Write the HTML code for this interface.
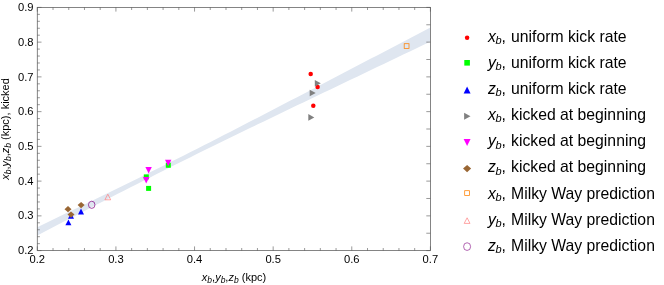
<!DOCTYPE html>
<html><head><meta charset="utf-8"><style>
html,body{margin:0;padding:0;background:#fff;}
body{width:664px;height:285px;overflow:hidden;}
svg{display:block;will-change:transform;}
text{font-family:"Liberation Sans",sans-serif;}
</style></head><body>
<svg width="664" height="285" viewBox="0 0 664 285">
<rect width="664" height="285" fill="#fff"/>

<polygon fill="#dfe6f0" points="37.30,227.16 43.96,223.96 50.63,220.76 57.29,217.55 63.95,214.34 70.61,211.12 77.28,207.91 83.94,204.68 90.60,201.45 97.26,198.22 103.93,194.98 110.59,191.74 117.25,188.48 123.92,185.22 130.58,181.95 137.24,178.67 143.90,175.38 150.57,172.08 157.23,168.77 163.89,165.45 170.55,162.12 177.22,158.77 183.88,155.41 190.54,152.05 197.21,148.67 203.87,145.28 210.53,141.89 217.19,138.48 223.86,135.07 230.52,131.64 237.18,128.22 243.84,124.78 250.51,121.34 257.17,117.90 263.83,114.45 270.49,110.99 277.16,107.53 283.82,104.07 290.48,100.61 297.15,97.14 303.81,93.67 310.47,90.20 317.13,86.72 323.80,83.25 330.46,79.77 337.12,76.29 343.78,72.81 350.45,69.33 357.11,65.84 363.77,62.36 370.44,58.87 377.10,55.38 383.76,51.90 390.42,48.41 397.09,44.92 403.75,41.43 410.41,37.94 417.07,34.45 423.74,30.96 430.40,27.46 430.40,41.64 423.74,44.82 417.07,48.00 410.41,51.18 403.75,54.36 397.09,57.53 390.42,60.71 383.76,63.90 377.10,67.08 370.44,70.26 363.77,73.44 357.11,76.63 350.45,79.81 343.78,83.00 337.12,86.19 330.46,89.38 323.80,92.57 317.13,95.76 310.47,98.96 303.81,102.16 297.15,105.36 290.48,108.56 283.82,111.76 277.16,114.97 270.49,118.18 263.83,121.40 257.17,124.62 250.51,127.84 243.84,131.07 237.18,134.30 230.52,137.54 223.86,140.79 217.19,144.05 210.53,147.31 203.87,150.58 197.21,153.86 190.54,157.16 183.88,160.46 177.22,163.77 170.55,167.10 163.89,170.43 157.23,173.78 150.57,177.14 143.90,180.51 137.24,183.89 130.58,187.28 123.92,190.68 117.25,194.09 110.59,197.50 103.93,200.92 97.26,204.35 90.60,207.79 83.94,211.23 77.28,214.68 70.61,218.13 63.95,221.58 57.29,225.04 50.63,228.51 43.96,231.97 37.30,235.44"/>
<g stroke="#666" stroke-width="0.8" fill="none">
<rect x="37.3" y="7.4" width="393.09999999999997" height="243.2"/>
</g><g stroke="#555" stroke-width="0.6" fill="none">
<path d="M37.30 250.6v-4.2M37.30 7.4v4.2"/>
<path d="M53.02 250.6v-2.6M53.02 7.4v2.6"/>
<path d="M68.75 250.6v-2.6M68.75 7.4v2.6"/>
<path d="M84.47 250.6v-2.6M84.47 7.4v2.6"/>
<path d="M100.20 250.6v-2.6M100.20 7.4v2.6"/>
<path d="M115.92 250.6v-4.2M115.92 7.4v4.2"/>
<path d="M131.64 250.6v-2.6M131.64 7.4v2.6"/>
<path d="M147.37 250.6v-2.6M147.37 7.4v2.6"/>
<path d="M163.09 250.6v-2.6M163.09 7.4v2.6"/>
<path d="M178.82 250.6v-2.6M178.82 7.4v2.6"/>
<path d="M194.54 250.6v-4.2M194.54 7.4v4.2"/>
<path d="M210.26 250.6v-2.6M210.26 7.4v2.6"/>
<path d="M225.99 250.6v-2.6M225.99 7.4v2.6"/>
<path d="M241.71 250.6v-2.6M241.71 7.4v2.6"/>
<path d="M257.44 250.6v-2.6M257.44 7.4v2.6"/>
<path d="M273.16 250.6v-4.2M273.16 7.4v4.2"/>
<path d="M288.88 250.6v-2.6M288.88 7.4v2.6"/>
<path d="M304.61 250.6v-2.6M304.61 7.4v2.6"/>
<path d="M320.33 250.6v-2.6M320.33 7.4v2.6"/>
<path d="M336.06 250.6v-2.6M336.06 7.4v2.6"/>
<path d="M351.78 250.6v-4.2M351.78 7.4v4.2"/>
<path d="M367.50 250.6v-2.6M367.50 7.4v2.6"/>
<path d="M383.23 250.6v-2.6M383.23 7.4v2.6"/>
<path d="M398.95 250.6v-2.6M398.95 7.4v2.6"/>
<path d="M414.68 250.6v-2.6M414.68 7.4v2.6"/>
<path d="M430.40 250.6v-4.2M430.40 7.4v4.2"/>
<path d="M37.3 250.60h4.2"/>
<path d="M37.3 243.65h2.6"/>
<path d="M37.3 236.70h2.6"/>
<path d="M37.3 229.75h2.6"/>
<path d="M37.3 222.81h2.6"/>
<path d="M37.3 215.86h4.2"/>
<path d="M37.3 208.91h2.6"/>
<path d="M37.3 201.96h2.6"/>
<path d="M37.3 195.01h2.6"/>
<path d="M37.3 188.06h2.6"/>
<path d="M37.3 181.11h4.2"/>
<path d="M37.3 174.17h2.6"/>
<path d="M37.3 167.22h2.6"/>
<path d="M37.3 160.27h2.6"/>
<path d="M37.3 153.32h2.6"/>
<path d="M37.3 146.37h4.2"/>
<path d="M37.3 139.42h2.6"/>
<path d="M37.3 132.47h2.6"/>
<path d="M37.3 125.53h2.6"/>
<path d="M37.3 118.58h2.6"/>
<path d="M37.3 111.63h4.2"/>
<path d="M37.3 104.68h2.6"/>
<path d="M37.3 97.73h2.6"/>
<path d="M37.3 90.78h2.6"/>
<path d="M37.3 83.83h2.6"/>
<path d="M37.3 76.89h4.2"/>
<path d="M37.3 69.94h2.6"/>
<path d="M37.3 62.99h2.6"/>
<path d="M37.3 56.04h2.6"/>
<path d="M37.3 49.09h2.6"/>
<path d="M37.3 42.14h4.2"/>
<path d="M37.3 35.19h2.6"/>
<path d="M37.3 28.25h2.6"/>
<path d="M37.3 21.30h2.6"/>
<path d="M37.3 14.35h2.6"/>
<path d="M37.3 7.40h4.2"/>
<path d="M430.4 250.60h-4.1"/>
<path d="M430.4 233.23h-4.1"/>
<path d="M430.4 215.86h-4.1"/>
<path d="M430.4 198.49h-4.1"/>
<path d="M430.4 181.11h-4.1"/>
<path d="M430.4 163.74h-4.1"/>
<path d="M430.4 146.37h-4.1"/>
<path d="M430.4 129.00h-4.1"/>
<path d="M430.4 111.63h-4.1"/>
<path d="M430.4 94.26h-4.1"/>
<path d="M430.4 76.89h-4.1"/>
<path d="M430.4 59.51h-4.1"/>
<path d="M430.4 42.14h-4.1"/>
<path d="M430.4 24.77h-4.1"/>
<path d="M430.4 7.40h-4.1"/>
</g>
<g font-size="11.2" fill="#000">
<text x="37.30" y="263.1" text-anchor="middle">0.2</text>
<text x="115.92" y="263.1" text-anchor="middle">0.3</text>
<text x="194.54" y="263.1" text-anchor="middle">0.4</text>
<text x="273.16" y="263.1" text-anchor="middle">0.5</text>
<text x="351.78" y="263.1" text-anchor="middle">0.6</text>
<text x="430.40" y="263.1" text-anchor="middle">0.7</text>
<text x="33.5" y="253.81" text-anchor="end">0.2</text>
<text x="33.5" y="219.18" text-anchor="end">0.3</text>
<text x="33.5" y="184.55" text-anchor="end">0.4</text>
<text x="33.5" y="149.92" text-anchor="end">0.5</text>
<text x="33.5" y="115.29" text-anchor="end">0.6</text>
<text x="33.5" y="80.66" text-anchor="end">0.7</text>
<text x="33.5" y="46.03" text-anchor="end">0.8</text>
<text x="33.5" y="11.40" text-anchor="end">0.9</text>
</g>
<text x="234" y="281.2" font-size="11" text-anchor="middle"><tspan font-style="italic">x</tspan><tspan font-style="italic" font-size="8.5" dy="1.8">b</tspan><tspan dy="-1.8">,</tspan><tspan font-style="italic">y</tspan><tspan font-style="italic" font-size="8.5" dy="1.8">b</tspan><tspan dy="-1.8">,</tspan><tspan font-style="italic">z</tspan><tspan font-style="italic" font-size="8.5" dy="1.8">b</tspan><tspan dy="-1.8"> (kpc)</tspan></text>
<text transform="translate(8.7,129) rotate(-90)" font-size="11" text-anchor="middle"><tspan font-style="italic">x</tspan><tspan font-style="italic" font-size="8.5" dy="1.8">b</tspan><tspan dy="-1.8">,</tspan><tspan font-style="italic">y</tspan><tspan font-style="italic" font-size="8.5" dy="1.8">b</tspan><tspan dy="-1.8">,</tspan><tspan font-style="italic">z</tspan><tspan font-style="italic" font-size="8.5" dy="1.8">b</tspan><tspan dy="-1.8"> (kpc)</tspan>, kicked</text>
<circle cx="310.70" cy="74.00" r="2.25" fill="#ff0000"/>
<circle cx="317.60" cy="87.10" r="2.25" fill="#ff0000"/>
<circle cx="313.30" cy="105.70" r="2.25" fill="#ff0000"/>
<rect x="143.80" y="174.40" width="5.0" height="5.0" fill="#00ff00"/>
<rect x="146.10" y="185.90" width="5.0" height="5.0" fill="#00ff00"/>
<rect x="165.80" y="162.80" width="5.0" height="5.0" fill="#00ff00"/>
<path d="M65.40 225.30h6.0L68.40 219.50z" fill="#0000ff"/>
<path d="M68.00 218.80h6.0L71.00 213.00z" fill="#0000ff"/>
<path d="M78.00 214.40h6.0L81.00 208.60z" fill="#0000ff"/>
<path d="M314.80 80.00v6.6L320.80 83.30z" fill="#808080"/>
<path d="M309.70 89.70v6.6L315.70 93.00z" fill="#808080"/>
<path d="M308.30 114.10v6.6L314.30 117.40z" fill="#808080"/>
<path d="M145.40 167.00h6.4L148.60 173.60z" fill="#ff00ff"/>
<path d="M143.00 177.00h6.4L146.20 183.60z" fill="#ff00ff"/>
<path d="M165.00 159.70h6.4L168.20 166.30z" fill="#ff00ff"/>
<path d="M64.50 209.20L68.00 206.10L71.50 209.20L68.00 212.30z" fill="#996633"/>
<path d="M67.50 214.60L71.00 211.50L74.50 214.60L71.00 217.70z" fill="#996633"/>
<path d="M77.60 205.10L81.10 202.00L84.60 205.10L81.10 208.20z" fill="#996633"/>
<rect x="404.20" y="43.70" width="4.8" height="4.8" fill="none" stroke="#ff8000" stroke-width="0.75"/>
<path d="M104.90 199.80h5.8L107.80 194.20z" fill="none" stroke="#ff8080" stroke-width="0.7"/>
<ellipse cx="91.70" cy="204.80" rx="3.25" ry="3.6" fill="none" stroke="#800080" stroke-width="0.7"/>
<circle cx="467.10" cy="37.80" r="2.25" fill="#ff0000"/>
<rect x="464.30" y="60.00" width="5.6" height="5.6" fill="#00ff00"/>
<path d="M463.65 93.40h6.9L467.10 86.40z" fill="#0000ff"/>
<path d="M464.10 112.70v7.0L470.50 116.20z" fill="#808080"/>
<path d="M463.65 138.90h6.9L467.10 145.90z" fill="#ff00ff"/>
<path d="M463.05 168.60L467.10 164.90L471.15 168.60L467.10 172.30z" fill="#996633"/>
<rect x="464.70" y="190.70" width="4.8" height="4.8" fill="none" stroke="#ff8000" stroke-width="0.75"/>
<path d="M464.20 223.40h5.8L467.10 217.80z" fill="none" stroke="#ff8080" stroke-width="0.7"/>
<ellipse cx="467.10" cy="246.60" rx="3.5" ry="3.85" fill="none" stroke="#800080" stroke-width="0.6"/>
<text x="488" y="41.90" font-size="15.75" fill="#000"><tspan font-style="italic">x</tspan><tspan font-style="italic" font-size="11" dy="2.2" dx="-0.5">b</tspan><tspan dy="-2.2">,</tspan><tspan dx="0.8"> uniform kick rate</tspan></text>
<text x="488" y="68.00" font-size="15.75" fill="#000"><tspan font-style="italic">y</tspan><tspan font-style="italic" font-size="11" dy="2.2" dx="-0.5">b</tspan><tspan dy="-2.2">,</tspan><tspan dx="0.8"> uniform kick rate</tspan></text>
<text x="488" y="94.10" font-size="15.75" fill="#000"><tspan font-style="italic">z</tspan><tspan font-style="italic" font-size="11" dy="2.2" dx="-0.5">b</tspan><tspan dy="-2.2">,</tspan><tspan dx="0.8"> uniform kick rate</tspan></text>
<text x="488" y="120.20" font-size="15.75" fill="#000"><tspan font-style="italic">x</tspan><tspan font-style="italic" font-size="11" dy="2.2" dx="-0.5">b</tspan><tspan dy="-2.2">,</tspan><tspan dx="0.8"> kicked at beginning</tspan></text>
<text x="488" y="146.30" font-size="15.75" fill="#000"><tspan font-style="italic">y</tspan><tspan font-style="italic" font-size="11" dy="2.2" dx="-0.5">b</tspan><tspan dy="-2.2">,</tspan><tspan dx="0.8"> kicked at beginning</tspan></text>
<text x="488" y="172.40" font-size="15.75" fill="#000"><tspan font-style="italic">z</tspan><tspan font-style="italic" font-size="11" dy="2.2" dx="-0.5">b</tspan><tspan dy="-2.2">,</tspan><tspan dx="0.8"> kicked at beginning</tspan></text>
<text x="488" y="198.50" font-size="15.75" fill="#000"><tspan font-style="italic">x</tspan><tspan font-style="italic" font-size="11" dy="2.2" dx="-0.5">b</tspan><tspan dy="-2.2">,</tspan><tspan dx="0.8"> Milky Way prediction</tspan></text>
<text x="488" y="224.60" font-size="15.75" fill="#000"><tspan font-style="italic">y</tspan><tspan font-style="italic" font-size="11" dy="2.2" dx="-0.5">b</tspan><tspan dy="-2.2">,</tspan><tspan dx="0.8"> Milky Way prediction</tspan></text>
<text x="488" y="250.70" font-size="15.75" fill="#000"><tspan font-style="italic">z</tspan><tspan font-style="italic" font-size="11" dy="2.2" dx="-0.5">b</tspan><tspan dy="-2.2">,</tspan><tspan dx="0.8"> Milky Way prediction</tspan></text>
</svg></body></html>
